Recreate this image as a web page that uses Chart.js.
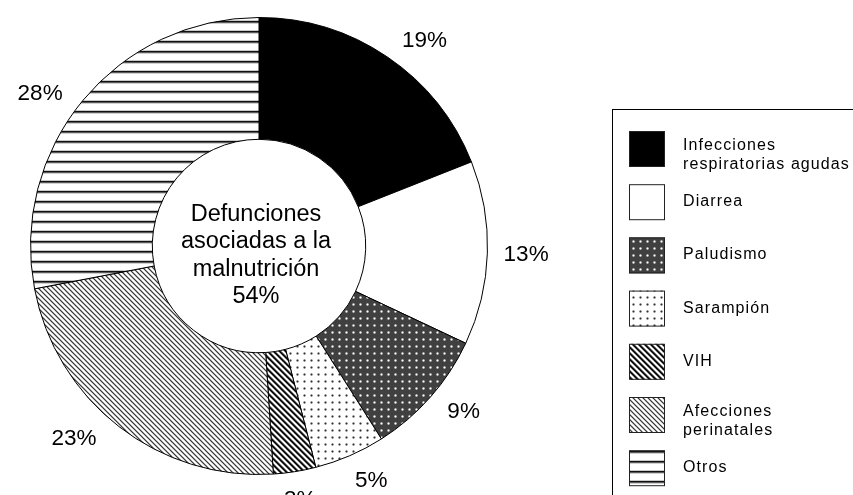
<!DOCTYPE html>
<html><head><meta charset="utf-8">
<script src="https://cdn.jsdelivr.net/npm/chart.js@4"></script>
<style>html,body{margin:0;padding:0;background:#fff;}canvas{display:block;}</style>
</head><body>
<canvas id="c" width="853" height="495"></canvas>
<script>
// ---- data ----
const categories = [['Infecciones', 'respiratorias agudas'], 'Diarrea', 'Paludismo', 'Sarampión', 'VIH', ['Afecciones', 'perinatales'], 'Otros'];
const shares = [19, 13, 9, 5, 3, 23, 28];
const centerLines = ['Defunciones', 'asociadas a la', 'malnutrición'];
const centerShare = 54;

// ---- styling ----
const FONT = "'Liberation Sans', Arial, Helvetica, sans-serif";
const labelAngleNudge = [4.5, -0.3, -2.7, -2.3, -0.3, 6.3, -4.5]; // degrees, label placement tweak

const canvas = document.getElementById('c');
const ctx = canvas.getContext('2d');

function tile(w, h, fn) {
  const c = document.createElement('canvas');
  c.width = w; c.height = h;
  const x = c.getContext('2d');
  for (let j = 0; j < h; j++) for (let i = 0; i < w; i++) { x.fillStyle = fn(i, j); x.fillRect(i, j, 1, 1); }
  return ctx.createPattern(c, 'repeat');
}
const mod = (a, n) => ((a % n) + n) % n;
const dist = (i, j) => Math.abs(i - 3) + Math.abs(j - 3);
const patPaludismo = tile(7, 7, (i, j) => dist(i, j) === 0 ? '#ffffff' : (dist(i, j) === 1 ? '#b0b0b0' : (dist(i, j) === 2 && i !== 3 && j !== 3 ? '#6a6a6a' : '#404040')));
const patSarampion = tile(7, 7, (i, j) => dist(i, j) === 0 ? '#303030' : (dist(i, j) === 1 ? '#909090' : (dist(i, j) === 2 && i !== 3 && j !== 3 ? '#dcdcdc' : '#ffffff')));
const patVIH = tile(6, 6, (i, j) => ['#000000', '#1e1e1e', '#8a8a8a', '#ffffff', '#ffffff', '#8a8a8a'][mod(i - j, 6)]);
const patAfecc = tile(5, 5, (i, j) => ['#3a3a3a', '#a0a0a0', '#ffffff', '#ffffff', '#c8c8c8'][mod(i - j, 5)]);
const patOtros = tile(10, 10, (i, j) => ['#c8c8c8', '#111111', '#5a5a5a', '#d0d0d0'][j] || '#ffffff');

const fills = ['#000000', '#ffffff', patPaludismo, patSarampion, patVIH, patAfecc, patOtros];

const overlayPlugin = {
  id: 'overlay',
  afterDraw(chart) {
    const c = chart.ctx;
    const meta = chart.getDatasetMeta(0);
    const ds = chart.data.datasets[0];
    c.save();
    // percentage labels
    c.fillStyle = '#000';
    c.font = '22.5px ' + FONT;
    c.textAlign = 'center';
    c.textBaseline = 'alphabetic';
    meta.data.forEach((arc, i) => {
      const p = arc.getProps(['x', 'y', 'startAngle', 'endAngle', 'outerRadius'], true);
      const a = (p.startAngle + p.endAngle) / 2 + labelAngleNudge[i] * Math.PI / 180;
      const txt = ds.data[i] + '%';
      const w = c.measureText(txt).width;
      const half = Math.abs(Math.cos(a)) * w / 2 + Math.abs(Math.sin(a)) * 8;
      const r = p.outerRadius + 16 + half;
      c.fillText(txt, p.x + Math.cos(a) * r, p.y + Math.sin(a) * r + 8);
    });
    // center text
    c.font = '23.5px ' + FONT;
    const a0 = meta.data[0];
    const lines = centerLines.concat([centerShare + '%']);
    lines.forEach((t, k) => c.fillText(t, a0.x - 3, a0.y - 25.5 + 27.6 * k));
    // legend
    c.strokeStyle = '#000';
    c.lineWidth = 1;
    c.strokeRect(612.5, 109.5, 320, 420);
    c.font = '16px ' + FONT;
    c.textAlign = 'left';
    if ('letterSpacing' in c) c.letterSpacing = '1.1px';
    chart.data.labels.forEach((lab, i) => {
      const top = 131 + 53.2 * i;
      c.fillStyle = fills[i];
      c.fillRect(629, top, 36, 36);
      c.strokeStyle = '#222';
      c.strokeRect(629.5, top + 0.5, 35, 35);
      c.fillStyle = '#000';
      const ls = Array.isArray(lab) ? lab : [lab];
      const cy = top + 18;
      const first = cy + (ls.length === 1 ? 4 : 1);
      ls.forEach((t, k) => c.fillText(t, 683, first + 19 * k));
    });
    c.restore();
  }
};

new Chart(canvas, {
  type: 'doughnut',
  data: {
    labels: categories,
    datasets: [{
      data: shares,
      backgroundColor: fills,
      hoverBackgroundColor: fills,
      borderColor: '#000',
      borderWidth: 1,
      hoverBorderWidth: 1,
      hoverOffset: 0
    }]
  },
  options: {
    responsive: false,
    animation: false,
    cutout: '46.7%',
    layout: { padding: { left: 30, top: 17, right: 365, bottom: 20 } },
    plugins: { legend: { display: false }, tooltip: { enabled: false } },
    events: []
  },
  plugins: [overlayPlugin]
});
</script>
</body></html>
